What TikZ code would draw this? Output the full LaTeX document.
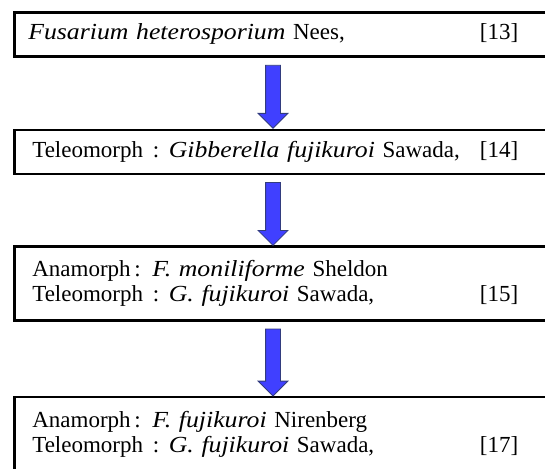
\documentclass[tikz,border=0pt]{standalone}
\usepackage{fontspec}
\setmainfont{Liberation Serif}[ItalicFeatures={FakeStretch=1.12}]
\usepackage{tikz}
\usetikzlibrary{positioning,calc,shapes.arrows}
\usepackage{xcolor}
\definecolor{arrowblue}{RGB}{64,64,255}
\definecolor{arrowedge}{RGB}{50,60,125}
\newcommand{\refno}[1]{\hfill[#1]\rule{25pt}{0pt}}
\newcommand{\sep}{\hspace{0.42em}:\hspace{0.42em}}

\begin{document}
\begin{tikzpicture}[
		x=1pt, y=1pt,
		node distance=71pt,  % 方框间距
		namebox/.style={rectangle, draw, line width=2.6pt, text width=511pt, inner xsep=18pt, inner ysep=0pt, minimum height=44pt, align=left, font=\fontsize{23}{25}\selectfont},
		pairbox/.style={namebox, minimum height=74pt},  % 两行文字
		downarrow/.style={single arrow, shape border rotate=270, draw=arrowedge, fill=arrowblue, line width=0.8pt, inner sep=7pt, single arrow head extend=7.5pt, minimum height=63pt}
		]
		\useasboundingbox (0,0) rectangle (545,-468);
		% 方框 - 从上到下
		\node[namebox, text width=515pt, inner xsep=14pt, anchor=north west] (heterosporium) at (13,-11) {\textit{Fusarium heterosporium} Nees,\refno{13}};
		\node[namebox, below=of heterosporium.south west, anchor=north west] (gibberella) {Teleomorph\sep\textit{Gibberella fujikuroi} Sawada,\refno{14}};
		\node[pairbox, below=70pt of gibberella] (moniliforme) {Anamorph\,: \textit{F. moniliforme} Sheldon\\Teleomorph\sep\textit{G. fujikuroi} Sawada,\refno{15}};
		\node[pairbox, below=74pt of moniliforme] (fujikuroi) {Anamorph\,: \textit{F. fujikuroi} Nirenberg\\Teleomorph\sep\textit{G. fujikuroi} Sawada,\refno{17}};
		% 蓝色箭头
		\coordinate (axis) at (273,0);
		\node[downarrow] (step1) at ($(heterosporium.south -| axis)!0.5!(gibberella.north -| axis)$) {};
		\node[downarrow] (step2) at ($(gibberella.south -| axis)!0.5!(moniliforme.north -| axis)$) {};
		\node[downarrow, minimum height=67pt] (step3) at ($(moniliforme.south -| axis)!0.5!(fujikuroi.north -| axis)$) {};
	\end{tikzpicture}
\end{document}
